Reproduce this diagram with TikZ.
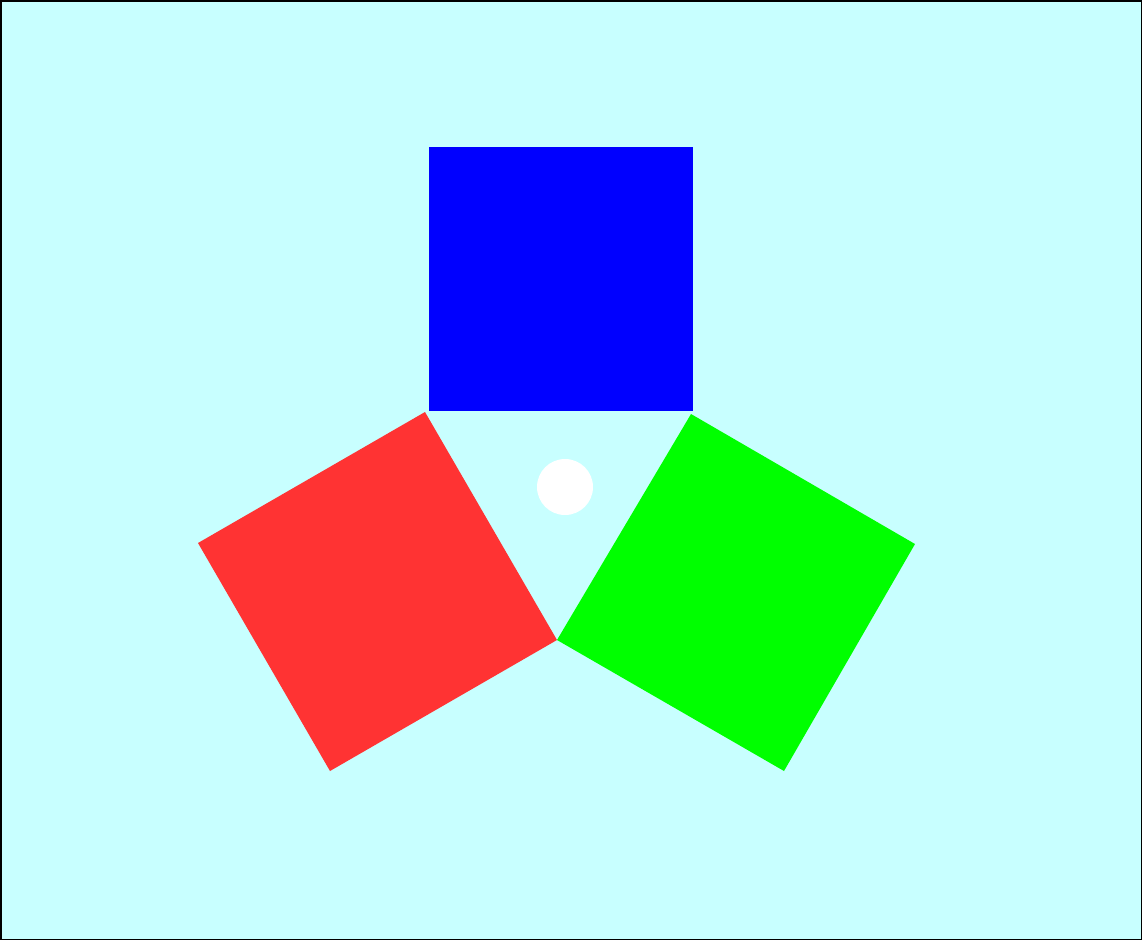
\documentclass[tikz,border=0pt]{standalone}
\definecolor{bgcyan}{HTML}{C8FFFF}
\definecolor{sqred}{HTML}{FF3333}
\tikzset{
    tile/.style = {draw=none},
}
\begin{document}
\begin{tikzpicture}[x=1pt, y=-1pt]
    % background and frame
    \fill[bgcyan] (0,0) rectangle (1142,940);
    \draw[black, line width=1.5pt] (0.75,0.75) rectangle (1141.25,939.25);
    \useasboundingbox (0,0) rectangle (1142,940);
    % the three squares
    \fill[tile, blue] (429,147) rectangle (693,411);
    \fill[tile, sqred] (425,412) -- (198,543) -- (330,771) -- (557,640) -- cycle;
    \fill[tile, green] (691,414) -- (915,544) -- (784,771) -- (557,640) -- cycle;
    % centre dot
    \fill[white] (565,487) circle (28);
\end{tikzpicture}
\end{document}
